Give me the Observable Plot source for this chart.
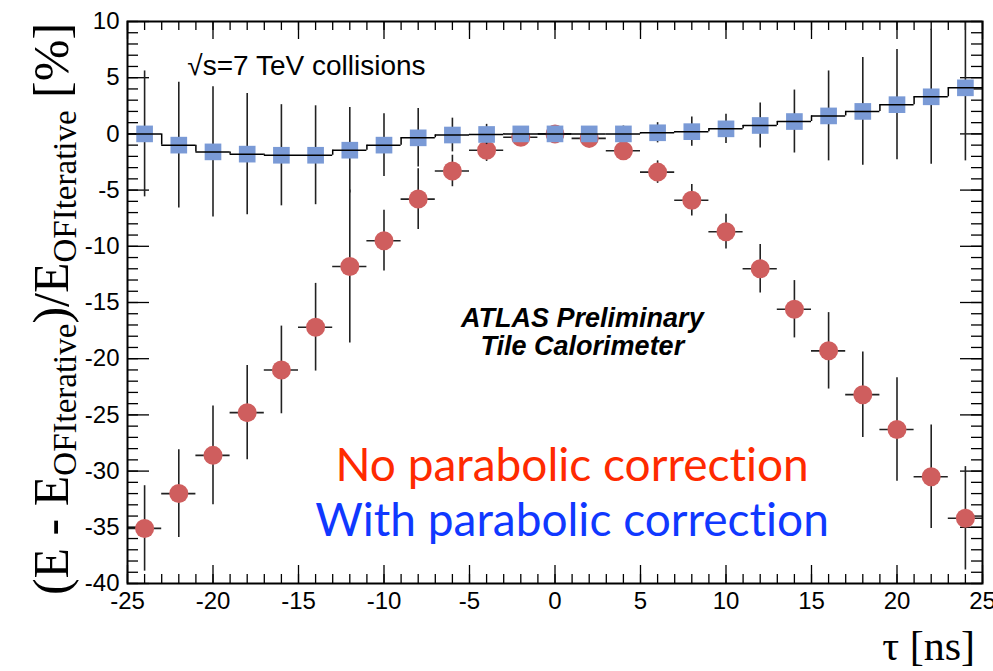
<!DOCTYPE html>
<html>
<head>
<meta charset="utf-8">
<script src="https://cdn.jsdelivr.net/npm/d3@7"></script>
<script src="https://cdn.jsdelivr.net/npm/@observablehq/plot@0.6"></script>
<style>
  body { margin: 0; background: #fff; }
  svg { display: block; }
  svg text { font-variant-ligatures: none; font-feature-settings: "liga" 0, "clig" 0; }
</style>
</head>
<body>
<div id="chart"></div>
<script>
// ---- data ----
const tau = [-24,-22,-20,-18,-16,-14,-12,-10,-8,-6,-4,-2,0,2,4,6,8,10,12,14,16,18,20,22,24];
const noCorr    = [-35.1,-32.0,-28.6,-24.8,-21.0,-17.2,-11.8,-9.5,-5.8,-3.3,-1.45,-0.3,0.0,-0.4,-1.5,-3.4,-5.9,-8.7,-12.0,-15.6,-19.3,-23.2,-26.3,-30.5,-34.2];
const noCorrErr = [3.8,3.9,4.4,4.2,3.9,3.9,6.8,2.7,2.7,1.4,1.0,0.5,0.5,0.5,0.8,1.0,1.4,1.55,2.15,2.55,3.4,3.8,4.6,4.6,4.6];
const withCorr    = [0.0,-1.0,-1.6,-1.8,-1.9,-1.9,-1.45,-1.0,-0.35,-0.1,-0.05,0.0,0.0,0.0,0.0,0.1,0.2,0.45,0.75,1.1,1.6,2.0,2.6,3.3,4.1];
const withCorrErr = [5.6,5.6,5.8,5.4,4.5,4.4,3.8,2.8,2.6,1.5,0.9,0.6,0.5,0.6,0.7,0.9,1.3,1.3,2.0,2.8,4.0,4.8,4.9,6.0,6.5];
const binWidth = 2;

const xMajorTicks = [-25,-20,-15,-10,-5,0,5,10,15,20,25];
const yMajorTicks = [-40,-35,-30,-25,-20,-15,-10,-5,0,5,10];
const xMinorTicks = d3.range(-25, 26, 1);
const yMinorTicks = d3.range(-40, 11, 1);

const labelNo   = "No parabolic correction";
const labelWith = "With parabolic correction";
const energyText = "√s=7 TeV collisions";
const atlasText  = "ATLAS Preliminary\nTile Calorimeter";

// ---- layout ----
const W = 993, H = 671;
const mL = 127, mR = 11, mT = 21, mB = 88;
const plotW = W - mL - mR, plotH = H - mT - mB;

const rows = tau.map((t, i) => ({
  t, red: noCorr[i], redErr: noCorrErr[i], blue: withCorr[i], blueErr: withCorrErr[i]
}));
const steps = rows.slice(0, -1).map((d, i) => ({ x: d.t + binWidth / 2, y1: d.blue, y2: rows[i + 1].blue }));

const barColor = "#222";
const tickStroke = { stroke: "black", strokeOpacity: 1, strokeWidth: 1.3 };

const chart = Plot.plot({
  width: W, height: H,
  marginLeft: mL, marginRight: mR, marginTop: mT, marginBottom: mB,
  x: { domain: [-25, 25] },
  y: { domain: [-40, 10] },
  style: { background: "white", fontFamily: "'Liberation Sans', Arial, sans-serif", color: "black" },
  marks: [
    // inward ticks on all four sides
    Plot.gridX(xMinorTicks, { ...tickStroke, insetTop: plotH - 9 }),
    Plot.gridX(xMajorTicks, { ...tickStroke, insetTop: plotH - 18 }),
    Plot.gridX(xMinorTicks, { ...tickStroke, insetBottom: plotH - 9 }),
    Plot.gridX(xMajorTicks, { ...tickStroke, insetBottom: plotH - 18 }),
    Plot.gridY(yMinorTicks, { ...tickStroke, insetRight: plotW - 11 }),
    Plot.gridY(yMajorTicks, { ...tickStroke, insetRight: plotW - 22 }),
    Plot.gridY(yMinorTicks, { ...tickStroke, insetLeft: plotW - 11 }),
    Plot.gridY(yMajorTicks, { ...tickStroke, insetLeft: plotW - 22 }),
    // tick labels
    Plot.axisX(xMajorTicks, { anchor: "bottom", tickSize: 0, tickPadding: 8, fontSize: 24, tickFormat: d => String(d), label: null }),
    Plot.axisY(yMajorTicks, { anchor: "left", tickSize: 0, tickPadding: 8, fontSize: 24, tickFormat: d => String(d), label: null }),
    // no parabolic correction: error bars + circles
    Plot.ruleX(rows, { x: "t", y1: d => d.red - d.redErr, y2: d => d.red + d.redErr, stroke: barColor, strokeWidth: 1.6, clip: true }),
    Plot.ruleY(rows, { y: "red", x1: d => d.t - binWidth / 2, x2: d => d.t + binWidth / 2, stroke: barColor, strokeWidth: 1.6, clip: true }),
    Plot.dot(rows, { x: "t", y: "red", r: 9.5, fill: "#cf5e5e" }),
    // with parabolic correction: error bars + squares + step histogram
    Plot.ruleX(rows, { x: "t", y1: d => d.blue - d.blueErr, y2: d => d.blue + d.blueErr, stroke: barColor, strokeWidth: 1.6, clip: true }),
    Plot.dot(rows, { x: "t", y: "blue", symbol: "square", r: 9.4, fill: "#7a9ad6" }),
    Plot.ruleY(rows, { y: "blue", x1: d => d.t - binWidth / 2, x2: d => d.t + binWidth / 2, stroke: "black", strokeWidth: 1.5 }),
    Plot.ruleX(steps, { x: "x", y1: "y1", y2: "y2", stroke: "black", strokeWidth: 1.5 }),
    // annotations
    Plot.text([energyText], { x: -21.5, y: 6.0, textAnchor: "start", fontSize: 28, fill: "black" }),
    Plot.text([atlasText], { x: 1.6, y: -17.6, fontSize: 27, fontWeight: "bold", fontStyle: "italic", lineHeight: 1.05, fill: "black" }),
    Plot.text([labelNo], { x: 1.0, y: -29.6, fontSize: 46, fontFamily: "Lato", fill: "#ff2a00" }),
    Plot.text([labelWith], { x: 1.0, y: -34.5, fontSize: 46, fontFamily: "Lato", fill: "#1038ff" }),
    Plot.frame({ stroke: "black", strokeWidth: 2 })
  ]
});

document.getElementById("chart").appendChild(chart);

// axis titles (serif, with subscripts)
const svg = d3.select(chart);
const yl = svg.append("text")
  .attr("transform", "translate(68,309) rotate(-90)")
  .attr("text-anchor", "middle")
  .attr("font-family", "'Liberation Serif', 'Times New Roman', serif")
  .attr("font-size", 50)
  .attr("fill", "black");
yl.append("tspan").text("(E - E");
yl.append("tspan").attr("font-size", 33).attr("dy", 8).text("OFIterative");
yl.append("tspan").attr("dy", -8).text(")/E");
yl.append("tspan").attr("font-size", 33).attr("dy", 8).text("OFIterative");
yl.append("tspan").attr("dy", -8).text(" [%]");

svg.append("text")
  .attr("x", 975).attr("y", 660)
  .attr("text-anchor", "end")
  .attr("font-family", "'Liberation Serif', 'Times New Roman', serif")
  .attr("font-size", 42)
  .attr("fill", "black")
  .text("τ [ns]");
</script>
</body>
</html>
